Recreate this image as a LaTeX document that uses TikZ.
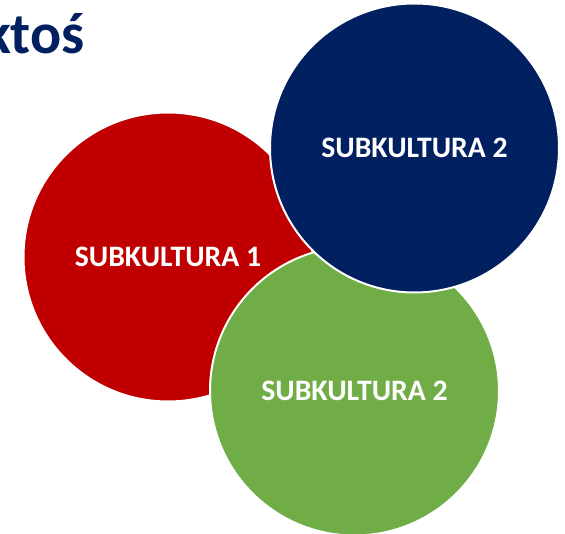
\documentclass[tikz,border=0pt]{standalone}
\usepackage{fontspec}
\setmainfont{Carlito}
\definecolor{cred}{HTML}{C00000}
\definecolor{cblue}{HTML}{002060}
\definecolor{cgreen}{HTML}{70AD47}
\begin{document}
\begin{tikzpicture}[x=1pt,y=1pt,
  bubble/.style={circle,draw=white,line width=2pt,inner sep=0pt,minimum size=289pt,text=white,font=\fontsize{29.7}{33}\selectfont\bfseries}]
\useasboundingbox[fill=white] (0,0) rectangle (565,-534);
\node[anchor=base west,text=cblue,font=\fontsize{58}{64}\selectfont\bfseries,inner sep=0pt] (title) at (-17,-54) {ktoś};
\node[bubble,fill=cred] (red) at (168,-257) {SUBKULTURA 1};
\node[bubble,fill=cgreen] (green) at (354.5,-391) {SUBKULTURA 2};
\node[bubble,fill=cblue] (blue) at (414.5,-148) {SUBKULTURA 2};
\end{tikzpicture}
\end{document}
